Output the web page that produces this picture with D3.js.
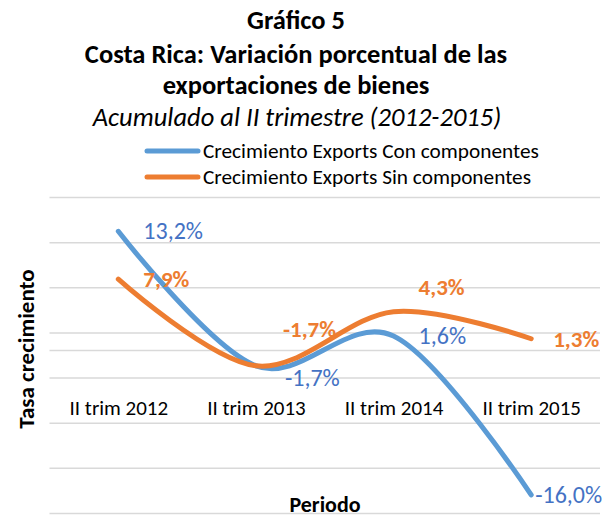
<!DOCTYPE html>
<html>
<head>
<meta charset="utf-8">
<script src="https://cdn.jsdelivr.net/npm/d3@7"></script>
<style>
  body { margin: 0; background: #fff; }
  svg text { font-family: Calibri, Carlito, Lato, sans-serif; }
</style>
</head>
<body>
<div id="chart"></div>
<script>
// chart values
var periods = ["II trim 2012", "II trim 2013", "II trim 2014", "II trim 2015"];
var conComponentes = [13.2, -1.7, 1.6, -16.0];
var sinComponentes = [7.9, -1.7, 4.3, 1.3];
var seriesNames = ["Crecimiento Exports Con componentes", "Crecimiento Exports Sin componentes"];
var gridValues = [-18, -13, -8, -3, 2, 7, 12, 17];
var titleLines = ["Gráfico 5", "Costa Rica: Variación porcentual de las", "exportaciones de bienes"];
var subtitle = "Acumulado al II trimestre (2012-2015)";

// where each data label sits relative to its point (moved by hand in the original)
var blueLabelOffsets = [[25, 8], [29, 20], [25, 7.5], [4, 8]];
var orangeLabelOffsets = [[25, 7.5], [27, -29], [25, -17], [22, 8]];

var width = 611, height = 518;
var svg = d3.select("#chart").append("svg")
    .attr("width", width)
    .attr("height", height);

var x = d3.scalePoint()
    .domain(periods)
    .range([49.5, 600])
    .padding(0.5);

var y = d3.scaleLinear()
    .domain([-18, 17])
    .range([513, 197]);

// gridlines
svg.append("g")
    .attr("transform", "translate(49.5,0)")
    .call(d3.axisLeft(y).tickValues(gridValues).tickSize(-550.5).tickFormat(""))
    .call(function(g) {
      g.select(".domain").remove();
      g.selectAll(".tick line").attr("stroke", "#d9d9d9").attr("stroke-width", 1.5);
    });

// category axis crossing at zero, labels pushed down
svg.append("g")
    .attr("class", "xaxis")
    .attr("transform", "translate(0," + y(0) + ")")
    .call(d3.axisBottom(x).tickSize(0).tickPadding(50))
    .call(function(g) {
      g.select(".domain").attr("stroke", "#d9d9d9").attr("stroke-width", 1.5)
        .attr("d", "M49.5,0H600");
      g.selectAll(".tick text")
        .attr("fill", "#000")
        .style("font-size", "21px")
        .style("font-family", "Calibri, Carlito, Lato, sans-serif");
    });

// titles
var titleY = [29, 63, 94];
svg.selectAll(".title")
    .data(titleLines)
    .enter().append("text")
    .attr("class", "title")
    .attr("x", 296)
    .attr("y", function(d, i) { return titleY[i]; })
    .attr("text-anchor", "middle")
    .style("font-size", "26.5px")
    .style("font-weight", "bold")
    .text(function(d) { return d; });

svg.append("text")
    .attr("x", 297)
    .attr("y", 126)
    .attr("text-anchor", "middle")
    .style("font-size", "26.5px")
    .style("font-style", "italic")
    .text(subtitle);

// legend
var colors = ["#5B9BD5", "#ED7D31"];
var legend = svg.selectAll(".legend")
    .data(seriesNames)
    .enter().append("g")
    .attr("class", "legend")
    .attr("transform", function(d, i) { return "translate(0," + (151 + i * 26) + ")"; });
legend.append("line")
    .attr("x1", 147).attr("x2", 198)
    .attr("stroke", function(d, i) { return colors[i]; })
    .attr("stroke-width", 5)
    .attr("stroke-linecap", "round");
legend.append("text")
    .attr("x", 203)
    .attr("y", 6.5)
    .style("font-size", "21.3px")
    .text(function(d) { return d; });

// lines
var line = d3.line()
    .x(function(d, i) { return x(periods[i]); })
    .y(function(d) { return y(d); })
    .curve(d3.curveCardinal.tension(0));

svg.append("path")
    .datum(conComponentes)
    .attr("fill", "none")
    .attr("stroke", colors[0])
    .attr("stroke-width", 5)
    .attr("stroke-linecap", "round")
    .attr("d", line);

svg.append("path")
    .datum(sinComponentes)
    .attr("fill", "none")
    .attr("stroke", colors[1])
    .attr("stroke-width", 5)
    .attr("stroke-linecap", "round")
    .attr("d", line);

function fmt(v) { return d3.format(".1f")(v).replace(".", ",").replace("−", "-") + "%"; }

svg.selectAll(".lblBlue")
    .data(conComponentes)
    .enter().append("text")
    .attr("class", "lblBlue")
    .attr("x", function(d, i) { return x(periods[i]) + blueLabelOffsets[i][0]; })
    .attr("y", function(d, i) { return y(d) + blueLabelOffsets[i][1]; })
    .attr("fill", "#4472C4")
    .style("font-size", "24px")
    .text(fmt);

svg.selectAll(".lblOrange")
    .data(sinComponentes)
    .enter().append("text")
    .attr("class", "lblOrange")
    .attr("x", function(d, i) { return x(periods[i]) + orangeLabelOffsets[i][0]; })
    .attr("y", function(d, i) { return y(d) + orangeLabelOffsets[i][1]; })
    .attr("fill", "#ED7D31")
    .style("font-size", "23px")
    .style("font-weight", "bold")
    .text(fmt);

// axis titles
svg.append("text")
    .attr("transform", "translate(34,349) rotate(-90)")
    .attr("text-anchor", "middle")
    .style("font-size", "23px")
    .style("font-weight", "bold")
    .text("Tasa crecimiento");

svg.append("text")
    .attr("x", 325)
    .attr("y", 512)
    .attr("text-anchor", "middle")
    .style("font-size", "22px")
    .style("font-weight", "bold")
    .text("Periodo");
</script>
</body>
</html>
